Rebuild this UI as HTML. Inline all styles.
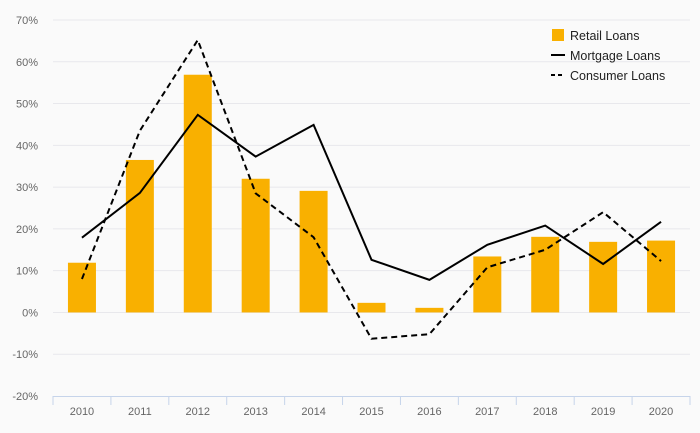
<!DOCTYPE html>
<html><head><meta charset="utf-8"><style>
html,body{margin:0;padding:0;background:#fafafa;}
svg{display:block;font-family:"Liberation Sans",sans-serif;}
</style></head><body>
<svg id="chart" width="700" height="433">
<g id="grid"></g>
<g id="yaxis"></g>
<g id="bars"></g>
<g id="lines"></g>
<g id="xaxis"></g>
<g>
  <rect x="552" y="29" width="12" height="12" fill="#f9b000"/>
  <text x="570" y="40" font-size="12.5" fill="#222">Retail Loans</text>
  <line x1="551" y1="55" x2="565" y2="55" stroke="#000" stroke-width="2"/>
  <text x="570" y="60" font-size="12.5" fill="#222">Mortgage Loans</text>
  <line x1="551" y1="75" x2="565" y2="75" stroke="#000" stroke-width="2" stroke-dasharray="4,3"/>
  <text x="570" y="80" font-size="12.5" fill="#222">Consumer Loans</text>
</g>
</svg>
<script>
const categories=["2010","2011","2012","2013","2014","2015","2016","2017","2018","2019","2020"];
const retail=[11.9,36.5,56.9,32,29.1,2.3,1.1,13.4,18.1,16.9,17.2];
const mortgage=[17.9,28.6,47.3,37.3,44.9,12.6,7.8,16.2,20.8,11.6,21.7];
const consumer=[8,43.5,65.2,28.5,18,-6.3,-5.2,10.8,15,24,12.3];
const yTicks=[-20,-10,0,10,20,30,40,50,60,70];
const NS="http://www.w3.org/2000/svg";
const x0=53,x1=690,yTop=20,yBot=396,yMin=-20,yMax=70;
const band=(x1-x0)/categories.length;
function xs(i){return x0+band*(i+0.5);}
function ys(v){return yBot-(v-yMin)/(yMax-yMin)*(yBot-yTop);}
function mk(tag,attrs,parent){const e=document.createElementNS(NS,tag);for(const k in attrs)e.setAttribute(k,attrs[k]);parent.appendChild(e);return e;}
const grid=document.getElementById('grid'),ya=document.getElementById('yaxis'),bars=document.getElementById('bars'),lines=document.getElementById('lines'),xa=document.getElementById('xaxis');
yTicks.forEach(t=>{
  if(t!==yMin){const g=mk('line',{x1:x0,x2:x1,y1:ys(t),y2:ys(t),stroke:'#e8e8ec','stroke-width':1},grid);
  
  }
  const l=mk('text',{x:38,y:ys(t)+4,'font-size':11,fill:'#666','text-anchor':'end'},ya);
  l.textContent=t+'%';
  
  
});
categories.forEach((c,i)=>{
  const b=mk('rect',{x:xs(i)-14,width:28,y:Math.min(ys(retail[i]),ys(0)),height:Math.abs(ys(0)-ys(retail[i])),fill:'#f9b000'},bars);
  
  
  const t=mk('text',{x:xs(i),y:415,'font-size':11,fill:'#666','text-anchor':'middle'},xa);
  t.textContent=c;
  
  
});
for(let i=0;i<=categories.length;i++){
  const tk=mk('line',{x1:x0+band*i,x2:x0+band*i,y1:yBot,y2:yBot+9,stroke:'#c6d4ea','stroke-width':1},xa);
  
  
}
const ax=mk('line',{x1:x0,x2:x1,y1:yBot+0.5,y2:yBot+0.5,stroke:'#c6d4ea','stroke-width':1},xa);


const mp=mk('polyline',{points:mortgage.map((v,i)=>xs(i)+','+ys(v)).join(' '),fill:'none',stroke:'#000','stroke-width':2},lines);


const cp=mk('polyline',{points:consumer.map((v,i)=>xs(i)+','+ys(v)).join(' '),fill:'none',stroke:'#000','stroke-width':2,'stroke-dasharray':'6,4'},lines);


</script>
</body></html>
